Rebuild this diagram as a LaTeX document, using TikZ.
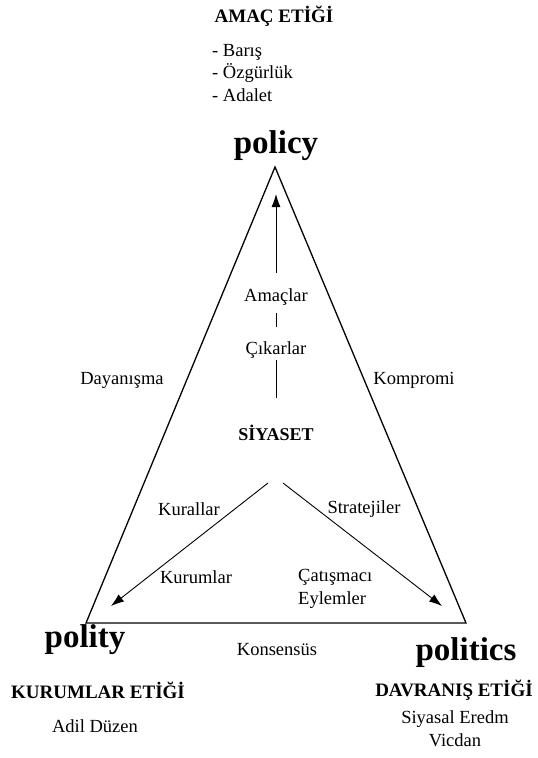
\documentclass[tikz,border=0pt]{standalone}
\usepackage{fontspec}
\setmainfont{Liberation Serif}
\usetikzlibrary{arrows.meta}
\begin{document}
\begin{tikzpicture}[x=1pt,y=-1pt,
  lbl/.style={font=\fontsize{18.5}{22}\selectfont, inner sep=0pt},
  head/.style={font=\fontsize{19}{22}\selectfont\bfseries, inner sep=0pt},
  big/.style={font=\fontsize{33}{36}\selectfont\bfseries, inner sep=0pt},
  edge/.style={line width=1.3pt},
  arr/.style={line width=0.9pt,-{Latex[length=13pt,width=9pt]}}]
\useasboundingbox (0,0) rectangle (538,758);
% triangle
\coordinate (top) at (275,167);
\coordinate (bl) at (86,623);
\coordinate (br) at (466,623);
\draw[edge, line join=miter] (top) -- (br) -- (bl) -- cycle;
% labels
\node[head] (amac) at (274,16) {AMAÇ ETİĞİ};
\node[lbl, align=left, anchor=north west, font=\fontsize{18.5}{22.5}\selectfont] (list) at (212,44) {- Barış\\- Özgürlük\\- Adalet};
\node[big] (policy) at (276,146) {policy};
\node[big] (polity) at (85,640) {polity};
\node[big] (politics) at (466,653) {politics};
\node[lbl] (dayan) at (122,380) {Dayanışma};
\node[lbl] (komp) at (414,380) {Kompromi};
\node[head, font=\fontsize{18}{21}\selectfont\bfseries] (siyaset) at (276,433) {SİYASET};
\node[lbl] (ama) at (276,297) {Amaçlar};
\node[lbl] (cik) at (276,350) {Çıkarlar};
\node[lbl] (kural) at (189,509) {Kurallar};
\node[lbl] (strat) at (364,509) {Stratejiler};
\node[lbl] (kurum) at (196,577) {Kurumlar};
\node[lbl, align=left, anchor=west, font=\fontsize{18.5}{23}\selectfont] (cat) at (298,589) {Çatışmacı\\Eylemler};
\node[lbl] (kons) at (277,650) {Konsensüs};
\node[head] (kurE) at (98,690) {KURUMLAR ETİĞİ};
\node[head] (davE) at (454,690) {DAVRANIŞ ETİĞİ};
\node[lbl] (adil) at (95,726) {Adil Düzen};
\node[lbl, align=center, font=\fontsize{18.5}{23}\selectfont] (siy) at (455,729) {Siyasal Eredm\\Vicdan};
% vertical arrow
\coordinate (v0) at (276,398);
\coordinate (v1) at (276,360);
\coordinate (v2) at (276,327);
\coordinate (v3) at (276,313);
\coordinate (v4) at (276,273);
\coordinate (v5) at (276,194);
\draw[line width=0.9pt] (v0) -- (v1);
\draw[line width=0.9pt] (v2) -- (v3);
\draw[arr] (v4) -- (v5);
% diagonal arrows
\coordinate (d0) at (268,483);
\coordinate (d1) at (111,606);
\coordinate (e0) at (283,483);
\coordinate (e1) at (442,606);
\draw[arr] (d0) -- (d1);
\draw[arr] (e0) -- (e1);
\end{tikzpicture}
\end{document}
